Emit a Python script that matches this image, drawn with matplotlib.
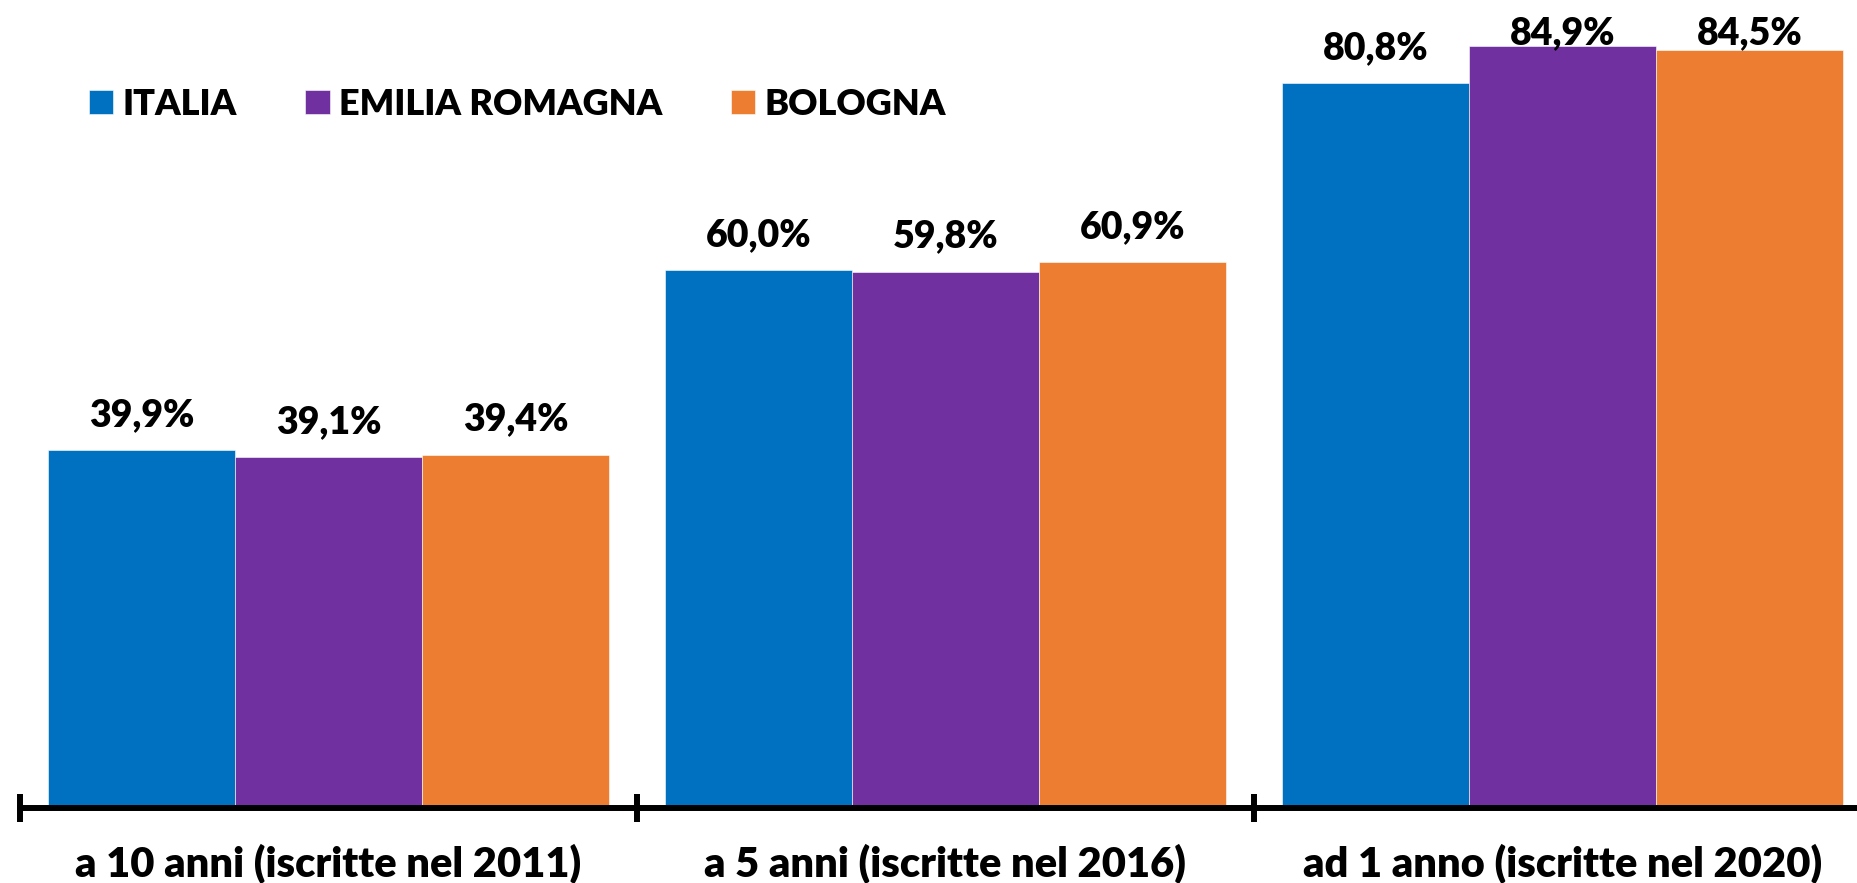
import matplotlib.pyplot as plt
import numpy as np

categories = ['a 10 anni (iscritte nel 2011)',
              'a 5 anni (iscritte nel 2016)',
              'ad 1 anno (iscritte nel 2020)']
series_names = ['ITALIA', 'EMILIA ROMAGNA', 'BOLOGNA']
italia = [39.9, 60.0, 80.8]
emilia_romagna = [39.1, 59.8, 84.9]
bologna = [39.4, 60.9, 84.5]
colors = ['#0070C0', '#7030A0', '#ED7D31']

plt.rcParams['font.family'] = ['Lato', 'DejaVu Sans']
plt.rcParams['font.weight'] = 'heavy'
W = 'heavy'

fig = plt.figure(figsize=(18.57, 8.83), dpi=100)
# axes placed in pixel terms: zero line at y=808, x=-0.5 at 20 px
ax = fig.add_axes([20 / 1857, 75 / 883, 1851 / 1857, 808 / 883])
ax.set_xlim(-0.5, 2.5)
ax.set_ylim(0, 90.08)

x = np.arange(len(categories))
width = 0.303
series = [italia, emilia_romagna, bologna]
for i, vals in enumerate(series):
    ax.bar(x + (i - 1) * width, vals, width, color=colors[i],
           label=series_names[i], edgecolor='white', linewidth=0.4,
           zorder=2)
    for xi, v in zip(x + (i - 1) * width, vals):
        ty = min(v + 2.68, 85.2)
        ax.text(xi, ty, ('%.1f%%' % v).replace('.', ','), ha='center',
                va='baseline', fontsize=27, fontweight=W, zorder=3)

# spines
for s in ['top', 'right', 'left']:
    ax.spines[s].set_visible(False)
ax.spines['bottom'].set_linewidth(4.3)
ax.spines['bottom'].set_zorder(4)
ax.set_yticks([])

ax.set_xticks(x)
ax.set_xticklabels(categories, fontsize=30, fontweight=W)
ax.tick_params(axis='x', which='major', length=0, pad=26)
ax.set_xticks([-0.5, 0.5, 1.5], minor=True)
ax.tick_params(axis='x', which='minor', direction='inout', length=20,
               width=4.3)

leg = ax.legend(loc='center left', bbox_to_anchor=(0.0373, 0.871), ncol=3,
                frameon=False, fontsize=26, handlelength=0.67,
                handleheight=0.67, handletextpad=0.26, columnspacing=1.9,
                borderpad=0, borderaxespad=0)
for t in leg.get_texts():
    t.set_fontweight(W)

plt.savefig('out.png', dpi=100)
